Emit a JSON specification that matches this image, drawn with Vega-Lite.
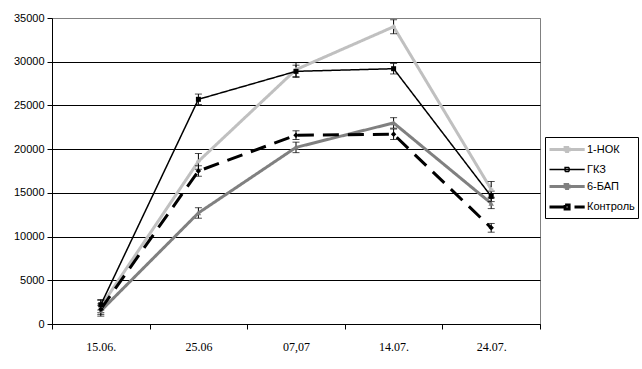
{
  "$schema": "https://vega.github.io/schema/vega-lite/v6.json",
  "width": 488,
  "height": 306,
  "autosize": "none",
  "padding": {"left": 52, "top": 18, "right": 102, "bottom": 45},
  "background": "white",
  "config": {
    "view": {"stroke": "#808080", "strokeWidth": 1},
    "font": "Liberation Sans"
  },
  "data": {
    "values": [
      {"date": "15.06.", "series": "1-НОК", "value": 2000, "err": 700},
      {"date": "25.06", "series": "1-НОК", "value": 18600, "err": 900},
      {"date": "07,07", "series": "1-НОК", "value": 29100, "err": 800},
      {"date": "14.07.", "series": "1-НОК", "value": 34000, "err": 800},
      {"date": "24.07.", "series": "1-НОК", "value": 15400, "err": 900},
      {"date": "15.06.", "series": "ГКЗ", "value": 2200, "err": 600},
      {"date": "25.06", "series": "ГКЗ", "value": 25700, "err": 600},
      {"date": "07,07", "series": "ГКЗ", "value": 28900, "err": 700},
      {"date": "14.07.", "series": "ГКЗ", "value": 29200, "err": 600},
      {"date": "24.07.", "series": "ГКЗ", "value": 14600, "err": 600},
      {"date": "15.06.", "series": "6-БАП", "value": 1500, "err": 600},
      {"date": "25.06", "series": "6-БАП", "value": 12700, "err": 600},
      {"date": "07,07", "series": "6-БАП", "value": 20200, "err": 600},
      {"date": "14.07.", "series": "6-БАП", "value": 23000, "err": 600},
      {"date": "24.07.", "series": "6-БАП", "value": 13800, "err": 600},
      {"date": "15.06.", "series": "Контроль", "value": 1700, "err": 600},
      {"date": "25.06", "series": "Контроль", "value": 17500, "err": 600},
      {"date": "07,07", "series": "Контроль", "value": 21600, "err": 500},
      {"date": "14.07.", "series": "Контроль", "value": 21700, "err": 600},
      {"date": "24.07.", "series": "Контроль", "value": 11000, "err": 500}
    ]
  },
  "encoding": {
    "x": {
      "field": "date",
      "type": "ordinal",
      "sort": ["15.06.", "25.06", "07,07", "14.07.", "24.07."],
      "scale": {"type": "band", "paddingInner": 0, "paddingOuter": 0},
      "axis": {
        "title": null,
        "labelAngle": 0,
        "labelFont": "Liberation Serif",
        "labelFontSize": 12,
        "labelColor": "black",
        "labelPadding": 12,
        "domainColor": "black",
        "tickColor": "black",
        "tickSize": 5,
        "tickBand": "extent",
        "grid": false
      }
    },
    "y": {
      "field": "value",
      "type": "quantitative",
      "scale": {"domain": [0, 35000], "nice": false},
      "axis": {
        "title": null,
        "values": [0, 5000, 10000, 15000, 20000, 25000, 30000, 35000],
        "format": "d",
        "labelFontSize": 11,
        "labelColor": "black",
        "labelPadding": 3,
        "domainColor": "black",
        "tickColor": "black",
        "tickSize": 5,
        "gridColor": {"condition": {"test": "datum.value === 35000", "value": "#808080"}, "value": "black"},
        "gridOpacity": 1,
        "gridWidth": 1
      }
    }
  },
  "layer": [
    {
      "mark": {"type": "line", "strokeJoin": "miter"},
      "encoding": {
        "color": {
          "field": "series",
          "type": "nominal",
          "sort": ["1-НОК", "ГКЗ", "6-БАП", "Контроль"],
          "scale": {"domain": ["1-НОК", "ГКЗ", "6-БАП", "Контроль"], "range": ["#c0c0c0", "#000000", "#808080", "#000000"]},
          "legend": {
            "title": null,
            "orient": "none",
            "legendX": 493,
            "legendY": 119,
            "strokeColor": "black",
            "fillColor": "white",
            "padding": 3,
            "symbolType": "M-1,0H3.4M0.95,-0.25H1.45V0.25H0.95Z",
            "symbolSize": 256,
            "symbolStrokeWidth": 2.5,
            "labelFontSize": 11,
            "labelColor": "black",
            "rowPadding": 2.5,
            "labelOffset": 20
          }
        },
        "strokeDash": {
          "field": "series",
          "type": "nominal",
          "sort": ["1-НОК", "ГКЗ", "6-БАП", "Контроль"],
          "scale": {"type": "ordinal", "domain": ["1-НОК", "ГКЗ", "6-БАП", "Контроль"], "range": [[1, 0], [1, 0], [1, 0], [16, 9]]},
          "legend": {"title": null}
        },
        "strokeWidth": {
          "field": "series",
          "type": "nominal",
          "scale": {"type": "ordinal", "domain": ["1-НОК", "ГКЗ", "6-БАП", "Контроль"], "range": [3, 1.5, 3, 3]},
          "legend": null
        }
      }
    },
    {
      "mark": {"type": "errorbar", "ticks": {"size": 7, "color": "black"}, "rule": {"color": "black", "strokeWidth": 1}},
      "encoding": {
        "yError": {"field": "err"},
        "detail": {"field": "series"}
      }
    },
    {
      "transform": [{"filter": "datum.series === '1-НОК'"}],
      "mark": {"type": "point", "shape": "cross", "filled": true, "color": "#c0c0c0", "opacity": 1, "size": 20}
    },
    {
      "transform": [{"filter": "datum.series === 'ГКЗ'"}],
      "mark": {"type": "point", "shape": "square", "filled": true, "color": "#000000", "opacity": 1, "size": 25}
    },
    {
      "transform": [{"filter": "datum.series === '6-БАП'"}],
      "mark": {"type": "point", "shape": "triangle-up", "filled": true, "color": "#808080", "opacity": 1, "size": 30}
    },
    {
      "transform": [{"filter": "datum.series === 'Контроль'"}],
      "mark": {"type": "point", "shape": "diamond", "filled": true, "color": "#000000", "opacity": 1, "size": 30}
    }
  ]
}
